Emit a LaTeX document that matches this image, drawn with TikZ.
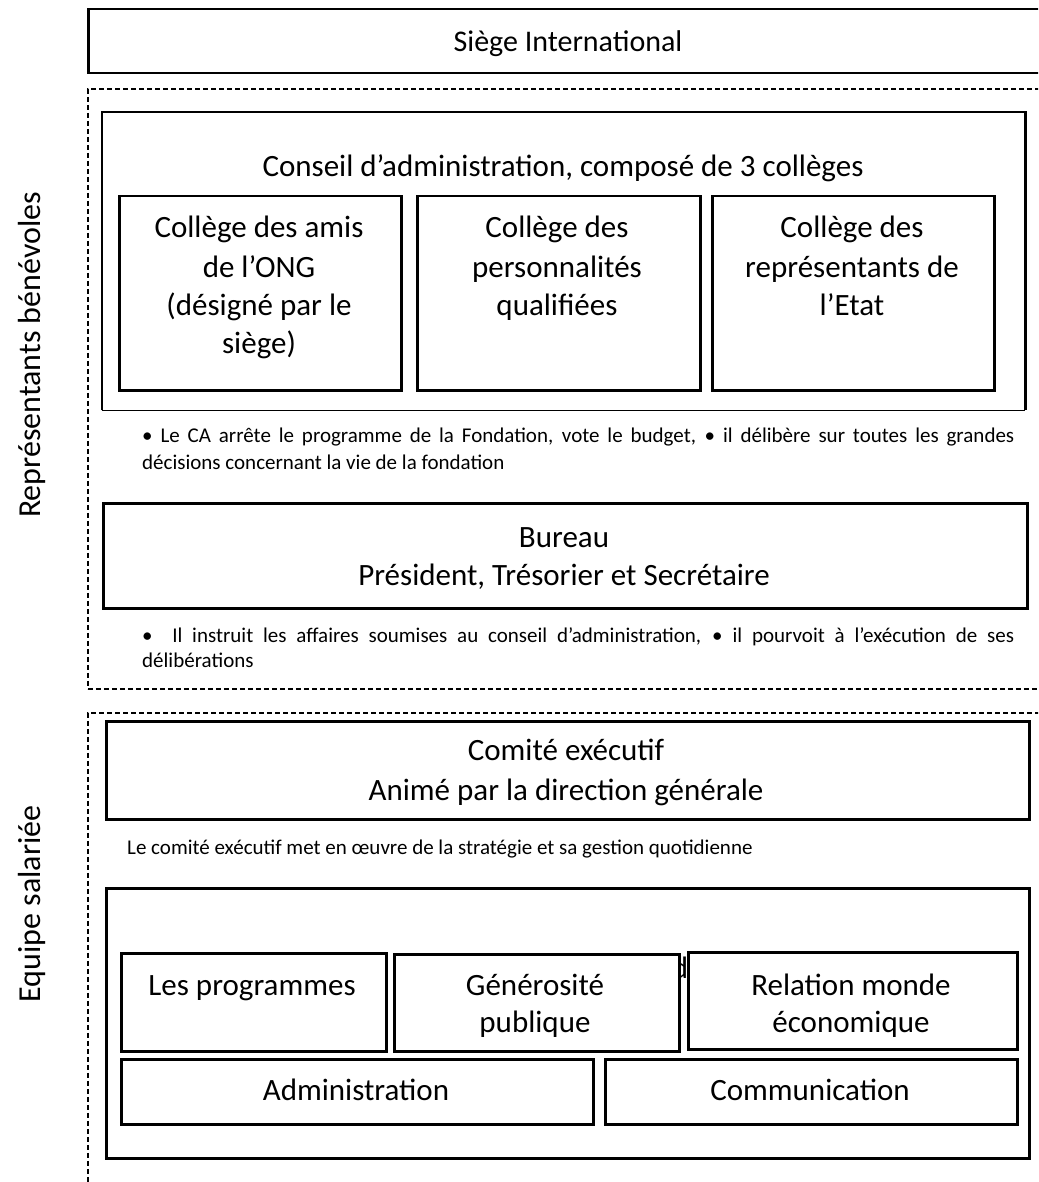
\documentclass[tikz,border=0pt]{standalone}
\usepackage{fontspec}
\setmainfont{Carlito}
\begin{document}
\begin{tikzpicture}[x=1pt,y=-1pt,
  boxst/.style={draw, line width=2.5pt, fill=white, inner sep=0pt, anchor=north west},
  dashst/.style={draw, line width=1.8pt, dash pattern=on 5pt off 3pt, inner sep=0pt, anchor=north west},
  bigtxt/.style={font=\fontsize{31}{37}\selectfont, inner sep=0pt, anchor=base},
  titletxt/.style={font=\fontsize{30}{36}\selectfont, inner sep=0pt, anchor=base},
  smalltxt/.style={font=\fontsize{21}{26}\selectfont, inner sep=0pt, anchor=base west},
  sidetxt/.style={font=\fontsize{32}{38}\selectfont, rotate=90, inner sep=0pt, anchor=center}]
\useasboundingbox (0,0) rectangle (1038,1182);
\clip (0,0) rectangle (1038,1182);
\fill[white] (0,0) rectangle (1038,1182);

% side labels
\node[sidetxt] (lbl1) at (32,355) {Représentants bénévoles};
\node[sidetxt] (lbl2) at (32,904) {Equipe salariée};

% siege
\node[boxst, minimum width=1000pt, minimum height=64pt] (siege) at (87,8) {};
\node[titletxt] (siegetxt) at (568,52) {Siège International};

% dashed groups
\node[dashst, minimum width=1000pt, minimum height=600pt] (vol) at (87,88) {};
\node[dashst, minimum width=1000pt, minimum height=520pt] (sal) at (87,712) {};

% conseil d'administration
\node[inner sep=0pt, minimum width=923pt, minimum height=298pt, anchor=north west] (ca) at (102,112) {};
\draw[line width=2.5pt] (ca.south west) -- (ca.north west) -- (ca.north east) -- (ca.south east);
\draw[line width=1pt] (ca.south west) -- (ca.south east);
\node[bigtxt] (catxt) at (563,177) {Conseil d’administration, composé de 3 collèges};

\node[boxst, minimum width=282pt, minimum height=194pt] (col1) at (118,195) {};
\node[boxst, minimum width=283pt, minimum height=194pt] (col2) at (416,195) {};
\node[boxst, minimum width=282pt, minimum height=194pt] (col3) at (711,195) {};

\node[bigtxt] (c1a) at (259,238) {Collège des amis};
\node[bigtxt] (c1b) at (259,277) {de l’ONG};
\node[bigtxt] (c1c) at (259,315) {(désigné par le};
\node[bigtxt] (c1d) at (259,353) {siège)};

\node[bigtxt] (c2a) at (557,238) {Collège des};
\node[bigtxt] (c2b) at (557,277) {personnalités};
\node[bigtxt] (c2c) at (557,315) {qualifiées};

\node[bigtxt] (c3a) at (852,238) {Collège des};
\node[bigtxt] (c3b) at (852,277) {représentants de};
\node[bigtxt] (c3c) at (852,315) {l’Etat};

\node[smalltxt, text width=872pt, align=justify] (ca1) at (142,442) {\parfillskip=0pt • Le CA arrête le programme de la Fondation, vote le budget, • il délibère sur toutes les grandes\par};
\node[smalltxt] (ca2) at (142,469) {décisions concernant la vie de la fondation};

% bureau
\node[boxst, minimum width=924pt, minimum height=105pt] (bur) at (102,502) {};
\node[bigtxt] (burt) at (564,547) {Bureau};
\node[bigtxt] (burs) at (564,585) {Président, Trésorier et Secrétaire};

\node[smalltxt, text width=872pt, align=justify] (bu1) at (142,642) {\parfillskip=0pt •\ \ Il instruit les affaires soumises au conseil d’administration, • il pourvoit à l’exécution de ses\par};
\node[smalltxt] (bu2) at (142,667) {délibérations};

% comite executif
\node[boxst, minimum width=923pt, minimum height=98pt] (com) at (105,720) {};
\node[bigtxt] (comt) at (566,760) {Comité exécutif};
\node[bigtxt] (coms) at (566,800) {Animé par la direction générale};
\node[smalltxt] (comd) at (127,854) {Le comité exécutif met en œuvre de la stratégie et sa gestion quotidienne};

% services
\node[boxst, minimum width=923pt, minimum height=270pt] (serv) at (105,887) {};
\node[bigtxt] (hid) at (680,978) {d};
\node[boxst, minimum width=265pt, minimum height=98pt] (prog) at (120,952) {};
\node[boxst, minimum width=285pt, minimum height=97pt] (gen) at (393,953) {};
\node[boxst, minimum width=329pt, minimum height=97pt] (rel) at (687,951) {};
\node[boxst, minimum width=472pt, minimum height=65pt] (adm) at (120,1058) {};
\node[boxst, minimum width=412pt, minimum height=65pt] (comm) at (604,1058) {};

\node[bigtxt] (progt) at (252,995) {Les programmes};
\node[bigtxt] (gena) at (535,995) {Générosité};
\node[bigtxt] (genb) at (535,1032) {publique};
\node[bigtxt] (rela) at (851,995) {Relation monde};
\node[bigtxt] (relb) at (851,1032) {économique};
\node[bigtxt] (admt) at (356,1100) {Administration};
\node[bigtxt] (commt) at (810,1100) {Communication};
\end{tikzpicture}
\end{document}
